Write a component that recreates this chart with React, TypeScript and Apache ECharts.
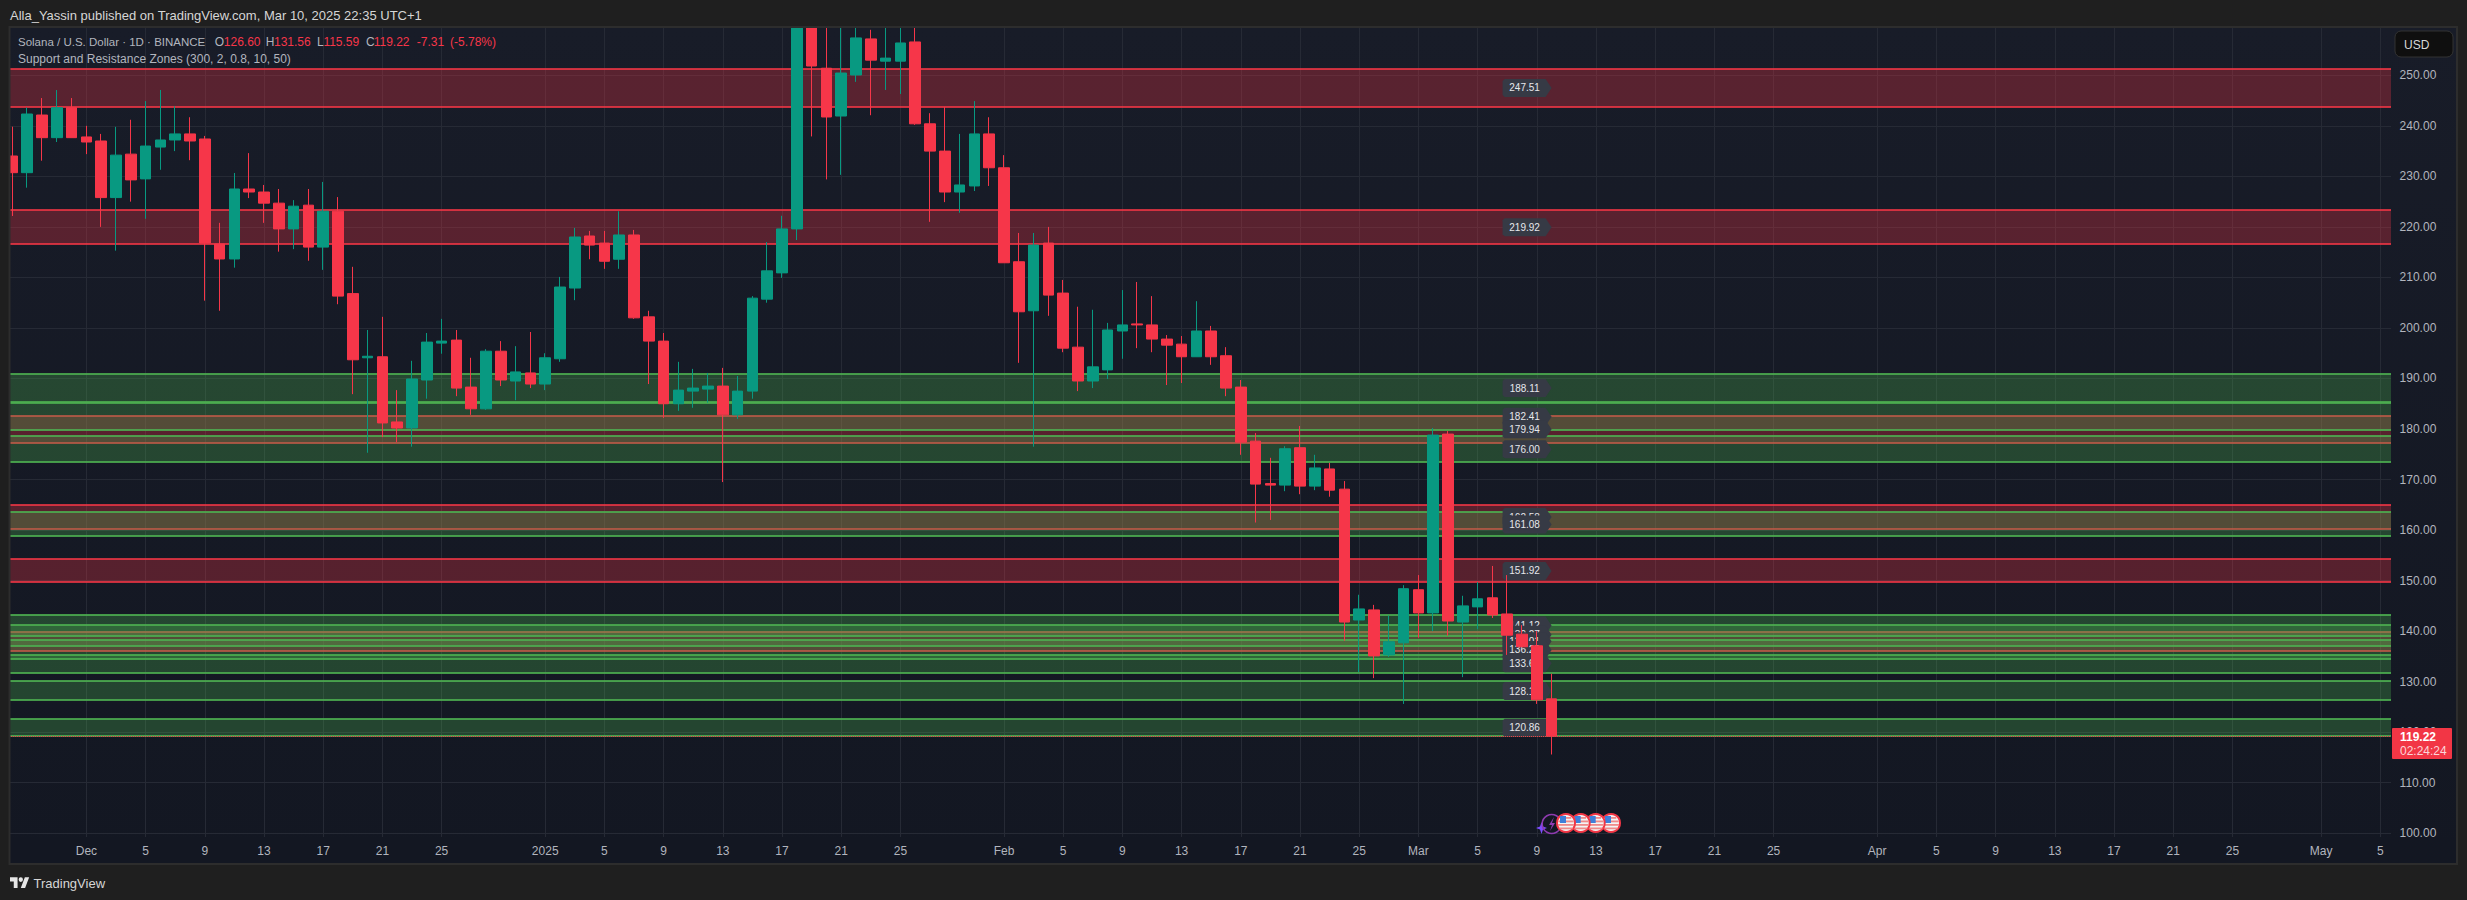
import { useEffect, useRef } from 'react'
import * as echarts from 'echarts'

// SOL/USD daily candles, Nov 26 2024 to Mar 10 2025
const opens = [
  234.03, 230.73, 242.14, 237.66, 243.6, 237.8, 237, 225.8, 234.4, 229.5, 235.8, 237.2, 238.4, 237.4, 216.6, 213.65,
  227.5, 226.9, 224.7, 219.6, 224.3, 216, 223.1, 206.8, 194.1, 194.3, 181.4, 180.2, 189.7, 197, 197.6, 188.3, 184,
  195.4, 189.5, 191.1, 188.9, 193.9, 207.9, 218.2, 216.8, 213.6, 218.4, 202.2, 197.4, 185, 187.5, 187.9, 188.5, 182.8,
  187.5, 205.7, 210.9, 219.6, 262, 251.4, 241.94, 250.06, 257.2, 252.8, 252.8, 256.6, 240.4, 235, 226.9, 228.1, 238.4,
  231.7, 213.1, 203.4, 216.8, 206.9, 196.2, 189.5, 191.7, 199.4, 200.8, 200.6, 197.8, 196.8, 194.3, 199.4, 194.5, 188.3,
  177.6, 169.2, 168.9, 176.3, 168.7, 172.1, 168.1, 142.2, 144.2, 135.3, 137.7, 148.2, 143.6, 179, 141.8, 144.8, 146.6,
  143.4, 139.4, 137.1, 126.6,
]
const closes = [
  230.73, 242.34, 237.66, 243.6, 237.66, 236.8, 225.8, 234.2, 229.3, 236, 237.2, 238.4, 237, 216.8, 213.65, 227.5,
  226.9, 224.7, 219.6, 224.1, 216, 223.1, 206.3, 193.7, 194.4, 181.2, 180.2, 189.9, 197.2, 197.4, 188.1, 184, 195.4,
  189.7, 191.3, 188.9, 194.1, 208.1, 218, 216.4, 213.2, 218.4, 202, 197.4, 185, 187.7, 188.1, 188.5, 182.8, 187.5,
  205.9, 211.3, 219.6, 262, 251.84, 241.75, 250.45, 257.4, 253, 253.4, 256.4, 240.4, 235, 226.9, 228.3, 238.4, 231.7,
  212.9, 203.2, 216.4, 206.5, 196, 189.5, 192.3, 199.6, 200.6, 200.6, 197.8, 196.6, 194.3, 199.4, 194.3, 188.1, 177.4,
  169.1, 168.9, 176.1, 168.7, 172.3, 167.9, 141.8, 144.4, 135.1, 137.9, 148.4, 143.6, 178.8, 142, 145, 146.4, 143.2,
  139.2, 136.9, 126.4, 119.22,
]
const lows = [
  222.16, 227.76, 233.1, 236.8, 237.66, 234.4, 220, 215.3, 225, 221.6, 231.3, 235, 233.2, 205.4, 203.4, 211.93, 225.7,
  220.8, 215.1, 215.6, 213.3, 211.5, 204.7, 186.9, 175.3, 178.4, 177.4, 176.5, 186, 194.9, 186.5, 182.8, 183.8, 188.5,
  185.7, 188.1, 187.7, 193.3, 205.5, 213.6, 211.7, 211.7, 201.8, 188.9, 182.2, 183.6, 184.2, 185.2, 169.5, 182, 186,
  205, 209.9, 217.4, 237.9, 229.4, 230.3, 248.7, 242.1, 247.1, 246.3, 240.2, 221, 224.9, 222.8, 227.1, 228.1, 212.9,
  193.1, 176.5, 202.4, 195.2, 187.5, 188.1, 189.9, 193.9, 196, 195.2, 188.7, 189.1, 194.3, 192.7, 186.5, 174.9, 161.5,
  162, 167.7, 167.1, 167.9, 166.6, 138.1, 131.9, 130.7, 134.9, 125.6, 138.7, 140, 139.1, 130.9, 140.4, 142.6, 135.3,
  136.9, 125.6, 115.59,
]
const highs = [
  239.83, 243.6, 245.5, 247.08, 245.5, 240, 238.4, 239.8, 241.2, 244.9, 247.1, 243.9, 241.7, 238, 220.8, 230.67, 234.6,
  228.3, 227.5, 225.3, 227.5, 228.9, 225.9, 212.1, 199.6, 202.2, 187.7, 193.5, 199, 201.8, 199.6, 194.1, 195.8, 197.4,
  196.4, 199.2, 195, 210.1, 219.8, 219.2, 219.2, 223.1, 219.4, 203.4, 199, 193.3, 191.9, 191.1, 192.1, 190.5, 206.3,
  217, 222.2, 270, 285, 265, 262, 262, 259, 262, 262, 262, 242.5, 243.7, 238.4, 244.9, 241.7, 234.2, 218.8, 218.8, 220,
  209.5, 204.2, 203.6, 201, 207.5, 209.1, 206.3, 198.6, 198.4, 205.3, 200.4, 196.2, 189.7, 179.2, 174.3, 176.6, 180.6,
  174.9, 173.3, 169.7, 147.2, 145.2, 143.1, 149.1, 151.1, 180.2, 179.6, 147, 149.7, 152.9, 151.1, 141.2, 140, 131.56,
]

const redZones = [
  [243.73, 251.25],
  [216.6, 223.34],
  [177.3, 182.58],
  [160.2, 165],
  [149.8, 154.3],
  [136, 139.9],
]
const greenZones = [
  [185.35, 190.9],
  [179.8, 185.2],
  [173.5, 178.6],
  [158.8, 163.6],
  [139, 143.2],
  [137.1, 141.2],
  [134.4, 138.3],
  [131.65, 135.3],
  [126.4, 130.1],
  [119.3, 122.6],
]
const zoneLabels = [
  247.51, 219.92, 188.11, 182.41, 179.94, 176.0, 162.58, 161.08, 151.92, 141.12, 139.27, 138.01, 136.28, 133.67, 128.15,
  120.86,
]

const months: [string, number, number][] = [
  ['Nov', 26, 30],
  ['Dec', 1, 31],
  ['Jan', 1, 31],
  ['Feb', 1, 28],
  ['Mar', 1, 31],
  ['Apr', 1, 30],
  ['May', 1, 6],
]
const tickDays = [1, 5, 9, 13, 17, 21, 25]
const monthLabels: Record<string, string> = { Dec: 'Dec', Jan: '2025', Feb: 'Feb', Mar: 'Mar', Apr: 'Apr', May: 'May' }
const categories: string[] = []
months.forEach(([m, from, to]) => {
  for (let d = from; d <= to; d++) categories.push(`${m} ${d}`)
})

const lastClose = 119.22
const lastBarIndex = closes.length - 1

const RED = '#f63649'
const GREEN = '#089981'
const PAGE = '#1f1f1f'
const FRAME = '#2d2d2d'
const GRID_LINE = '#262a35'
const AXIS_TEXT = '#b2b5be'
const FONT = '"Liberation Sans", Arial, sans-serif'

const tickLabel = (cat: string) => {
  const [m, d] = cat.split(' ')
  if (m === 'Nov' || !tickDays.includes(Number(d))) return ''
  return d === '1' ? monthLabels[m] : d
}
const isTick = (i: number) => tickLabel(categories[i]) !== ''

echarts.graphic.registerShape(
  'tvLogo',
  echarts.graphic.extendPath('M14 25H7V14H0V7h14v18zM28 25h-8l7.5-18h8L28 25zM24 11a4 4 0 1 1-8 0a4 4 0 1 1 8 0z', {}),
)

const renderZone = (params: any, api: any) => {
  const cs = params.coordSys
  const yHi = Math.round(api.coord([0, api.value(2)])[1])
  const yLo = Math.round(api.coord([0, api.value(1)])[1])
  const red = api.value(3) === 1
  const line = red ? 'rgba(242,54,69,0.8)' : 'rgba(76,175,80,0.85)'
  const fill = red ? 'rgba(242,54,69,0.3)' : 'rgba(76,175,80,0.3)'
  const edge = (y: number) => ({
    type: 'line',
    shape: { x1: cs.x, y1: y, x2: cs.x + cs.width, y2: y },
    style: { stroke: line, lineWidth: 2 },
  })
  return {
    type: 'group',
    children: [
      { type: 'rect', shape: { x: cs.x, y: yHi, width: cs.width, height: yLo - yHi }, style: { fill } },
      edge(yHi),
      edge(yLo),
    ],
  }
}

const renderZoneLabel = (_params: any, api: any) => {
  const [x, y] = api.coord([api.value(0), api.value(1)])
  return {
    type: 'group',
    x,
    y,
    children: [
      {
        type: 'polygon',
        shape: {
          points: [
            [-47, -9],
            [-6, -9],
            [0, 0],
            [-6, 9],
            [-47, 9],
            [-49, 7],
            [-49, -7],
          ],
        },
        style: { fill: '#363a45' },
      },
      {
        type: 'text',
        x: -27,
        y: 0,
        style: {
          text: api.value(1).toFixed(2),
          fill: '#e6e8ec',
          align: 'center',
          verticalAlign: 'middle',
          fontSize: 10,
          fontFamily: FONT,
        },
      },
    ],
  }
}

const txt = (text: string, x: number, y: number, fill: string, fontSize = 12, fontWeight = 'normal', z = 32) => ({
  type: 'text',
  x,
  y,
  z,
  style: { text, fill, fontSize, fontWeight, fontFamily: FONT, verticalAlign: 'middle' },
})

const box = (x: number, y: number, width: number, height: number, fill: any, z = 15) => ({
  type: 'rect',
  z,
  shape: { x, y, width, height },
  style: { fill },
})

// earnings style flag marker sitting under the last bars
const flag = (cx: number, z: number) => {
  const cy = 823
  const rows = [-6, -2.5, 1, 4.5]
  return [
    { type: 'circle', z, shape: { cx, cy, r: 9 }, style: { fill: '#f4f4f4', stroke: '#f23645', lineWidth: 2 } },
    ...rows.map((dy) => {
      const half = Math.sqrt(64 - dy * dy)
      return {
        type: 'rect',
        z,
        shape: { x: cx - half, y: cy + dy, width: half * 2, height: 1.8 },
        style: { fill: '#ef8a8a' },
      }
    }),
    { type: 'rect', z, shape: { x: cx - 6, y: cy - 7, width: 6, height: 7 }, style: { fill: '#3f7fd8' } },
  ]
}

const paneFill = {
  type: 'linear',
  x: 0,
  y: 0,
  x2: 0,
  y2: 1,
  colorStops: [
    { offset: 0, color: '#181c28' },
    { offset: 1, color: '#131722' },
  ],
}

function buildOption() {
  const zoneData = [
    ...redZones.map(([lo, hi]) => [0, lo, hi, 1]),
    ...greenZones.map(([lo, hi]) => [0, lo, hi, 0]),
  ]
  return {
    animation: false,
    backgroundColor: PAGE,
    textStyle: { fontFamily: FONT },
    grid: { left: 5, top: 24.77, width: 2397.6, height: 859.03, containLabel: false },
    xAxis: [
      {
        type: 'category',
        data: categories,
        boundaryGap: true,
        axisLine: { show: false },
        axisTick: { show: false },
        axisLabel: { show: false },
        splitLine: {
          show: true,
          alignWithLabel: true,
          interval: (i: number) => isTick(i),
          lineStyle: { color: GRID_LINE, width: 1 },
        },
      },
      {
        type: 'category',
        data: categories,
        position: 'bottom',
        offset: -39,
        z: 30,
        axisLine: { show: false },
        axisTick: { show: false },
        splitLine: { show: false },
        axisLabel: {
          margin: 0,
          color: AXIS_TEXT,
          fontSize: 12,
          hideOverlap: false,
          interval: (i: number) => isTick(i),
          formatter: (v: string) => tickLabel(v),
        },
      },
    ],
    yAxis: [
      {
        type: 'value',
        min: 90,
        max: 260,
        interval: 10,
        axisLine: { show: false },
        axisTick: { show: false },
        axisLabel: { show: false },
        splitLine: { show: true, lineStyle: { color: GRID_LINE, width: 1 } },
      },
      {
        type: 'value',
        min: 90,
        max: 260,
        interval: 10,
        position: 'right',
        offset: -3,
        z: 20,
        axisLine: { show: false },
        axisTick: { show: false },
        splitLine: { show: false },
        axisLabel: {
          margin: 0,
          color: AXIS_TEXT,
          fontSize: 12,
          formatter: (v: number) => (v < 100 || v > 250 ? '' : v.toFixed(2)),
        },
      },
    ],
    series: [
      {
        type: 'custom',
        name: 'zones',
        z: 1,
        silent: true,
        renderItem: renderZone,
        encode: { x: 0, y: [1, 2] },
        data: zoneData,
      },
      {
        type: 'custom',
        name: 'zone labels',
        z: 2,
        silent: true,
        renderItem: renderZoneLabel,
        encode: { x: 0, y: 1 },
        data: zoneLabels.map((p) => [lastBarIndex, p]),
      },
      {
        type: 'candlestick',
        name: 'SOLUSD',
        z: 5,
        silent: true,
        barWidth: 11,
        itemStyle: {
          color: GREEN,
          color0: RED,
          borderColor: GREEN,
          borderColor0: RED,
          borderWidth: 1,
        },
        data: opens.map((o, i) => [o, closes[i], lows[i], highs[i]]),
        markLine: {
          silent: true,
          symbol: 'none',
          label: { show: false },
          lineStyle: { color: RED, type: 'dotted', width: 1 },
          data: [{ yAxis: lastClose }],
        },
      },
    ],
    graphic: [
      { type: 'rect', z: -1, shape: { x: 10, y: 27, width: 2447, height: 837 }, style: { fill: paneFill } },

      // covers: everything outside the pane, price scale and time scale
      box(0, 0, 2467, 27, PAGE),
      box(0, 0, 10, 900, PAGE),
      box(0, 864, 2467, 36, PAGE),
      box(2457, 0, 10, 900, PAGE),
      box(2391, 27, 66, 837, paneFill),
      box(10, 837, 2447, 27, '#131722', 25),
      {
        type: 'rect',
        z: 26,
        shape: { x: 9.5, y: 27, width: 2447.5, height: 837 },
        style: { fill: 'none', stroke: FRAME, lineWidth: 2 },
      },

      // header
      txt('Alla_Yassin published on TradingView.com, Mar 10, 2025 22:35 UTC+1', 10, 15, '#d6d6d6', 13),

      // legend
      txt('Solana / U.S. Dollar · 1D · BINANCE', 18, 42, AXIS_TEXT, 11.5),
      txt('O', 214.7, 42, AXIS_TEXT),
      txt('126.60', 223.8, 42, RED),
      txt('H', 265.7, 42, AXIS_TEXT),
      txt('131.56', 274, 42, RED),
      txt('L', 317, 42, AXIS_TEXT),
      txt('115.59', 323.4, 42, RED),
      txt('C', 366, 42, AXIS_TEXT),
      txt('119.22', 373.7, 42, RED),
      txt('-7.31', 416.8, 42, RED),
      txt('(-5.78%)', 450, 42, RED),
      txt('Support and Resistance Zones (300, 2, 0.8, 10, 50)', 18, 59, AXIS_TEXT),

      // currency button
      {
        type: 'rect',
        z: 27,
        shape: { x: 2395, y: 31, width: 58, height: 26, r: 6 },
        style: { fill: '#0f0f0f', stroke: '#333', lineWidth: 1 },
      },
      txt('USD', 2404, 44.5, '#d8d8d8'),

      // last price tag
      { type: 'rect', z: 27, shape: { x: 2392, y: 728, width: 60, height: 31, r: 1 }, style: { fill: '#f23645' } },
      txt('119.22', 2400, 737, '#ffffff', 12, 'bold'),
      txt('02:24:24', 2400, 751, '#fcd5d9', 12),

      // event markers
      {
        type: 'polygon',
        z: 6,
        shape: {
          points: [
            [1541.5, 822],
            [1543, 826.5],
            [1547, 828],
            [1543, 829.5],
            [1541.5, 834],
            [1540, 829.5],
            [1536, 828],
            [1540, 826.5],
          ],
        },
        style: { fill: '#7c4dff' },
      },
      { type: 'circle', z: 6, shape: { cx: 1551.7, cy: 824, r: 9.5 }, style: { fill: 'none', stroke: '#8e3bb0', lineWidth: 1.5 } },
      {
        type: 'polygon',
        z: 6,
        shape: {
          points: [
            [1554, 817],
            [1549, 825],
            [1552, 825],
            [1550, 831],
            [1555, 823],
            [1552, 823],
          ],
        },
        style: { fill: '#8e3bb0' },
      },
      ...flag(1611, 7),
      ...flag(1595.7, 8),
      ...flag(1580.7, 9),
      ...flag(1566, 10),

      // footer
      { type: 'tvLogo', z: 32, x: 10, y: 873, scaleX: 0.54, scaleY: 0.6, style: { fill: '#e6e6e6' } },
      txt('TradingView', 33.5, 883, '#d6d6d6', 13),
    ],
  }
}

export default function App() {
  const ref = useRef<HTMLDivElement>(null)

  useEffect(() => {
    const el = ref.current
    if (!el) return
    const chart = echarts.init(el, undefined, { renderer: 'svg' })
    chart.setOption(buildOption() as any)
    return () => chart.dispose()
  }, [])

  return <div ref={ref} style={{ position: 'absolute', left: 0, top: 0, width: 2467, height: 900 }} />
}
